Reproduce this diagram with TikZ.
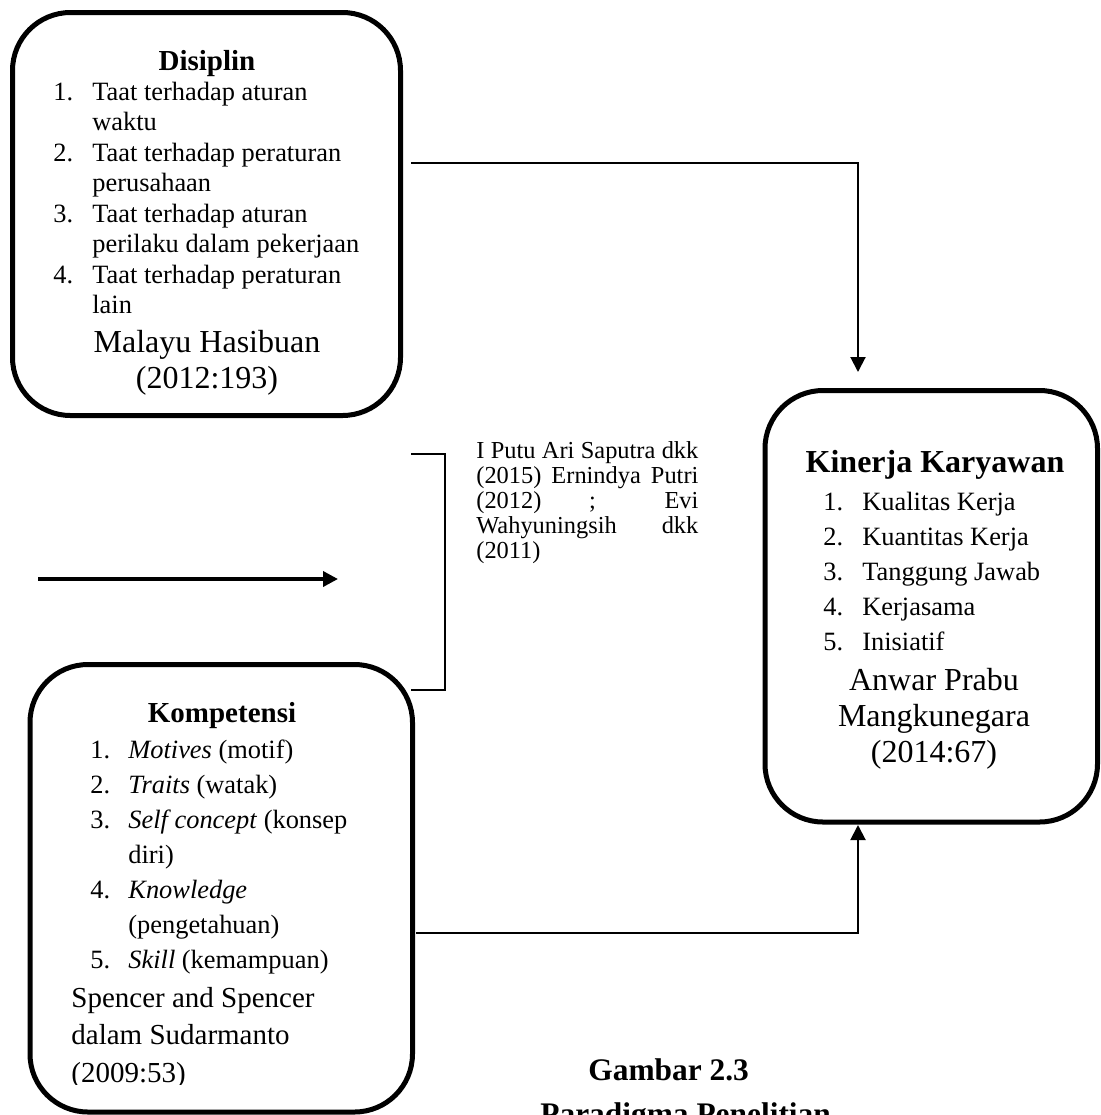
\documentclass[tikz,border=0pt]{standalone}
\usepackage{fontspec}
\setmainfont{Liberation Serif}
\usetikzlibrary{arrows.meta}

\tikzset{
  box/.style={draw, line width=2.5pt, rounded corners=29pt, inner sep=0pt},
  conn/.style={line width=1pt},
  tip/.style={-{Triangle[length=7.5pt,width=7.5pt]}},
  txt/.style={inner sep=0pt, anchor=base west},
  ctr/.style={inner sep=0pt, anchor=base},
}
\newcommand{\itemfont}[1]{\fontsize{13.2}{#1}\selectfont}

\begin{document}
\begin{tikzpicture}[x=0.5pt, y=-0.5pt]
\useasboundingbox (0,0) rectangle (1100,1115);

%boxes
\node[box, minimum width=194pt, minimum height=201.5pt] (dis) at (206.5,214) {};
\node[box, minimum width=166.25pt, minimum height=215.75pt] (kin) at (931.25,606.25) {};
\node[box, minimum width=191.25pt, minimum height=223.75pt] (kom) at (221.25,888.25) {};

%disiplin
\node[ctr, font=\bfseries\fontsize{14.5}{17}\selectfont] (disTitle) at (207,70) {Disiplin};
\node[txt, font=\itemfont{15.25}] (disList) at (53,100) {\begin{tabular}[t]{@{}p{19.5pt}@{}l@{}}
1. & Taat terhadap aturan\\
   & waktu\\
2. & Taat terhadap peraturan\\
   & perusahaan\\
3. & Taat terhadap aturan\\
   & perilaku dalam pekerjaan\\
4. & Taat terhadap peraturan\\
   & lain
\end{tabular}};
\node[ctr, font=\fontsize{16}{18}\selectfont] (disRef) at (207,352) {\begin{tabular}[t]{@{}c@{}}
Malayu Hasibuan\\ (2012:193)
\end{tabular}};

%kinerja
\node[ctr, font=\bfseries\fontsize{16}{18}\selectfont] (kinTitle) at (935,472) {Kinerja Karyawan};
\node[txt, font=\itemfont{17.5}] (kinList) at (823,510) {\begin{tabular}[t]{@{}p{19.5pt}@{}l@{}}
1. & Kualitas Kerja\\
2. & Kuantitas Kerja\\
3. & Tanggung Jawab\\
4. & Kerjasama\\
5. & Inisiatif
\end{tabular}};
\node[ctr, font=\fontsize{16}{18}\selectfont] (kinRef) at (934,690) {\begin{tabular}[t]{@{}c@{}}
Anwar Prabu\\ Mangkunegara\\ (2014:67)
\end{tabular}};

%kompetensi
\node[ctr, font=\bfseries\fontsize{14.5}{17}\selectfont] (komTitle) at (222,722) {Kompetensi};
\node[txt, font=\itemfont{17.5}] (komList) at (90,758) {\begin{tabular}[t]{@{}p{19pt}@{}l@{}}
1. & \textit{Motives} (motif)\\
2. & \textit{Traits} (watak)\\
3. & \textit{Self concept} (konsep\\
   & diri)\\
4. & \textit{Knowledge}\\
   & (pengetahuan)\\
5. & \textit{Skill} (kemampuan)
\end{tabular}};
\begin{scope}
\clip (0,0) rectangle (1100,1084);
\node[txt, font=\fontsize{14.5}{18.75}\selectfont] (komRef) at (71,1007) {\begin{tabular}[t]{@{}l@{}}
Spencer and Spencer\\ dalam Sudarmanto\\ (2009:53)
\end{tabular}};
\end{scope}

%middle text
\node[txt, font=\fontsize{12.2}{12.5}\selectfont] (refs) at (476,458) {\begin{tabular}[t]{@{}l@{}}
\makebox[111pt][s]{I Putu Ari Saputra dkk}\\
\makebox[111pt][s]{(2015) Ernindya Putri}\\
\makebox[111pt][s]{(2012) ; Evi}\\
\makebox[111pt][s]{Wahyuningsih dkk}\\
(2011)
\end{tabular}};

%connectors
\coordinate (disOut) at (411,163);
\coordinate (kinTop) at (858,372);
\draw[conn, tip] (disOut) -| (kinTop);
\coordinate (komOut) at (416,933);
\coordinate (kinBot) at (858,825);
\draw[conn, tip] (komOut) -| (kinBot);
\coordinate (brTop) at (411,454);
\coordinate (brBot) at (411,690);
\draw[conn] (brTop) -| (445,690) -- (brBot);
\coordinate (arrA) at (38,579);
\coordinate (arrB) at (338,579);
\draw[line width=1.8pt, tip] (arrA) -- (arrB);

%caption
\node[txt, font=\bfseries\fontsize{15.7}{18}\selectfont] (capNum) at (588,1080) {Gambar 2.3};
\node[txt, font=\bfseries\fontsize{15.7}{18}\selectfont] (capTitle) at (540,1124) {Paradigma Penelitian};

\end{tikzpicture}
\end{document}
